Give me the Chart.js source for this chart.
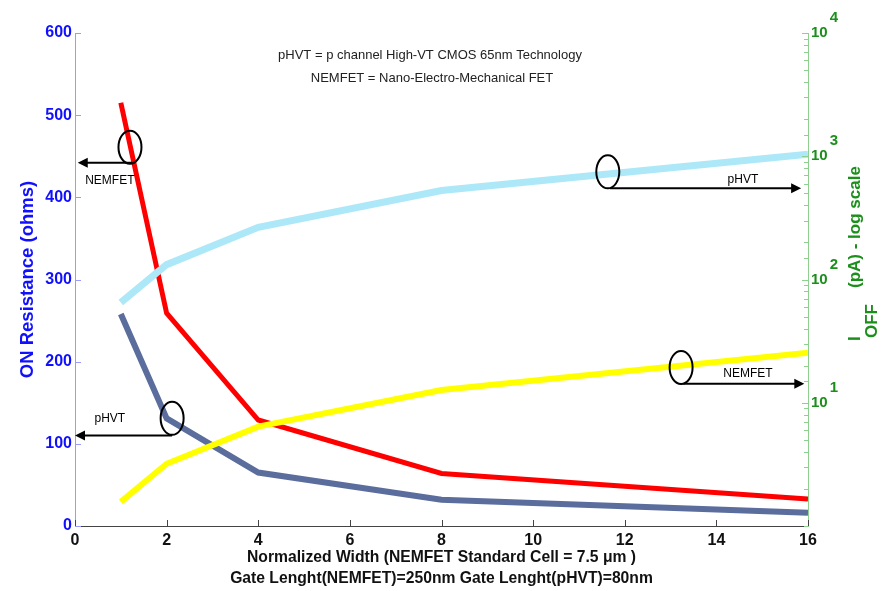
<!DOCTYPE html>
<html>
<head>
<meta charset="utf-8">
<script src="https://cdn.jsdelivr.net/npm/chart.js@4.4.1/dist/chart.umd.min.js"></script>
<style>
  html, body { margin: 0; padding: 0; background: #fff; }
</style>
</head>
<body>
<canvas id="chart" width="890" height="591"></canvas>
<script>
// values
const widths = [1, 2, 4, 8, 16]
const ronNemfet = [515, 259, 129, 64, 33]
const ronPhvt = [258, 131, 65, 32, 16]
const ioffPhvt = [65, 132, 265, 527, 1040]
const ioffNemfet = [1.57, 3.2, 6.4, 12.7, 25.5]
const xTickStep = 2
const infoLines = ['pHVT = p channel High-VT CMOS 65nm Technology', 'NEMFET = Nano-Electro-Mechanical FET']
const xTitle = ['Normalized Width (NEMFET Standard Cell = 7.5 \u03bcm )', 'Gate Lenght(NEMFET)=250nm Gate Lenght(pHVT)=80nm']
const leftTitle = 'ON Resistance (ohms)'

const FONT = '"Liberation Sans", Arial, Helvetica, sans-serif'
const BLUE = '#1010ff'
const GREEN = '#1a8f1a'

const toPts = vals => vals.map((v, i) => ({ x: widths[i], y: v }))

// circle + arrow callouts, in data units of x / left y axis
const callouts = [
  { label: 'NEMFET', cx: 1.2, cy: 461, ay: 442, from: 1.25, to: 0.06, lx: 0.76, ly: 420 },
  { label: 'pHVT', cx: 2.12, cy: 131, ay: 110, from: 2.12, to: 0.0, lx: 0.76, ly: 131 },
  { label: 'pHVT', cx: 11.63, cy: 431, ay: 411, from: 11.68, to: 15.85, lx: 14.58, ly: 421 },
  { label: 'NEMFET', cx: 13.23, cy: 193, ay: 173, from: 13.28, to: 15.92, lx: 14.69, ly: 185 }
]

function isDecade(v) {
  const e = Math.round(Math.log10(v))
  return Math.abs(Math.pow(10, e) - v) < 1e-6 && e >= 1
}

const decorations = {
  id: 'decorations',
  afterDraw(chart) {
    const { ctx, chartArea: area, scales: { x, y, y2 } } = chart
    ctx.save()

    // inward tick marks (matlab style)
    ctx.lineWidth = 1
    ctx.strokeStyle = '#444'
    x.ticks.forEach(t => {
      const px = Math.round(x.getPixelForValue(t.value)) + 0.5
      ctx.beginPath(); ctx.moveTo(px, area.bottom); ctx.lineTo(px, area.bottom - 6); ctx.stroke()
    })
    ctx.strokeStyle = '#9a9aff'
    y.ticks.forEach(t => {
      const py = Math.round(y.getPixelForValue(t.value)) + 0.5
      ctx.beginPath(); ctx.moveTo(area.left, py); ctx.lineTo(area.left + 6, py); ctx.stroke()
    })
    ctx.strokeStyle = '#8fcf8f'
    y2.ticks.forEach(t => {
      const py = Math.round(y2.getPixelForValue(t.value)) + 0.5
      const len = isDecade(t.value) ? 6 : 4
      ctx.beginPath(); ctx.moveTo(area.right, py); ctx.lineTo(area.right - len, py); ctx.stroke()
    })

    // exponents on the log axis
    ctx.fillStyle = GREEN
    ctx.font = 'bold 15px ' + FONT
    ctx.textBaseline = 'middle'
    ctx.textAlign = 'left'
    const baseW = ctx.measureText('10').width
    y2.ticks.forEach(t => {
      if (!isDecade(t.value)) return
      const py = y2.getPixelForValue(t.value)
      ctx.fillText(String(Math.round(Math.log10(t.value))), area.right + 3 + baseW + 2, py - 15)
    })

    // right axis title: I_OFF (pA) - log scale
    ctx.translate(855, 0)
    ctx.rotate(-Math.PI / 2)
    ctx.font = 'bold 17px ' + FONT
    ctx.fillText('I', -341, 0)
    ctx.fillText('OFF', -338, 17)
    ctx.fillText('(pA) - log scale', -288, 0)
    ctx.setTransform(1, 0, 0, 1, 0, 0)

    // info text
    ctx.fillStyle = '#222'
    ctx.font = '13px ' + FONT
    ctx.textAlign = 'center'
    ctx.fillText(infoLines[0], 430, 55)
    ctx.fillText(infoLines[1], 432, 78)

    // callouts
    ctx.strokeStyle = '#000'
    ctx.fillStyle = '#000'
    ctx.lineWidth = 2
    ctx.font = '12px ' + FONT
    callouts.forEach(c => {
      const cx = x.getPixelForValue(c.cx), cy = y.getPixelForValue(c.cy)
      ctx.beginPath(); ctx.ellipse(cx, cy, 11.5, 16.5, 0, 0, Math.PI * 2); ctx.stroke()
      const ay = y.getPixelForValue(c.ay)
      const x0 = x.getPixelForValue(c.from), x1 = x.getPixelForValue(c.to)
      const dir = Math.sign(x1 - x0)
      ctx.beginPath(); ctx.moveTo(x0, ay); ctx.lineTo(x1 - dir * 8, ay); ctx.stroke()
      ctx.beginPath()
      ctx.moveTo(x1, ay); ctx.lineTo(x1 - dir * 10, ay - 5); ctx.lineTo(x1 - dir * 10, ay + 5)
      ctx.closePath(); ctx.fill()
      ctx.fillText(c.label, x.getPixelForValue(c.lx), y.getPixelForValue(c.ly))
    })
    ctx.restore()
  }
}

new Chart(document.getElementById('chart'), {
  type: 'line',
  data: {
    datasets: [
      { label: 'IOFF NEMFET', data: toPts(ioffNemfet), yAxisID: 'y2', borderColor: '#ffff00', borderWidth: 6 },
      { label: 'IOFF pHVT', data: toPts(ioffPhvt), yAxisID: 'y2', borderColor: '#ade8f8', borderWidth: 7 },
      { label: 'RON NEMFET', data: toPts(ronNemfet), yAxisID: 'y', borderColor: '#ff0000', borderWidth: 5 },
      { label: 'RON pHVT', data: toPts(ronPhvt), yAxisID: 'y', borderColor: '#5a6d9c', borderWidth: 6 }
    ]
  },
  options: {
    responsive: false,
    animation: false,
    devicePixelRatio: 1,
    layout: { padding: { top: 33, left: 0, right: 0, bottom: 0 } },
    elements: {
      line: { tension: 0, fill: false },
      point: { radius: 0 }
    },
    plugins: { legend: { display: false }, tooltip: { enabled: false } },
    scales: {
      x: {
        type: 'linear', min: 0, max: 16,
        grid: { display: false, drawTicks: false },
        border: { display: true, color: '#444', width: 1 },
        ticks: { stepSize: xTickStep, color: '#111', padding: 5, font: { family: FONT, size: 16, weight: 'bold' } },
        title: {
          display: true, text: xTitle, color: '#111', padding: { top: 0, bottom: 2 },
          font: { family: FONT, size: 15.7, weight: 'bold', lineHeight: 1.34 }
        },
        afterFit: s => { s.height = 65 }
      },
      y: {
        position: 'left', min: 0, max: 600,
        grid: { display: false, drawTicks: false },
        border: { display: true, color: '#9a9aff', width: 1 },
        ticks: { stepSize: 100, color: BLUE, padding: 3, font: { family: FONT, size: 16, weight: 'bold' } },
        title: {
          display: true, text: leftTitle, color: BLUE, padding: { top: 17, bottom: 0 },
          font: { family: FONT, size: 18.5, weight: 'bold' }
        },
        afterFit: s => { s.width = 75 }
      },
      y2: {
        type: 'logarithmic', position: 'right', min: 1, max: 10000,
        grid: { display: false, drawTicks: false },
        border: { display: true, color: '#8fcf8f', width: 1 },
        ticks: {
          autoSkip: false, color: GREEN, padding: 3,
          font: { family: FONT, size: 15, weight: 'bold' },
          callback: v => (isDecade(v) ? '10' : '')
        },
        afterFit: s => { s.width = 82 }
      }
    }
  },
  plugins: [decorations]
})
</script>
</body>
</html>
